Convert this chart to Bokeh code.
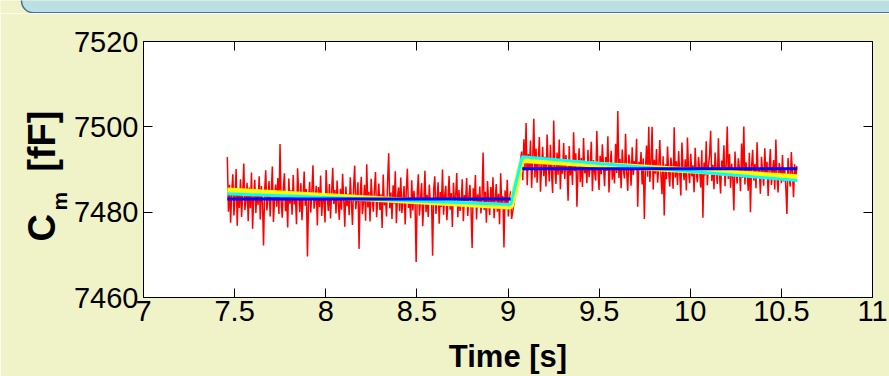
import numpy as np
from bokeh.plotting import figure
from bokeh.layouts import column
from bokeh.models import (LinearAxis, FixedTicker, Range1d, Title, Quad, Plot)
from bokeh.embed import file_html
from bokeh.resources import INLINE

# ---------------- data ----------------
seg1_t_start, seg1_t_end = 7.46, 9.02
seg1_values = [
    7492.9, 7480.1, 7486.4, 7477.5, 7484.8, 7488.9, 7479.2, 7483.6, 7490.1, 7476.8, 7485.3, 7481.0, 7487.7, 7478.9, 7484.2, 7491.4, 7480.5, 7482.7, 7486.9, 7477.9,
    7485.8, 7480.9, 7489.3, 7476.1, 7483.4, 7487.6, 7479.8, 7484.9, 7481.7, 7488.4, 7478.3, 7486.1, 7482.2, 7472.2, 7485.0, 7489.8, 7480.4, 7483.1, 7487.3, 7479.0,
    7484.6, 7490.7, 7477.7, 7482.9, 7486.5, 7481.3, 7488.0, 7479.6, 7496.0, 7482.4, 7478.7, 7485.6, 7489.1, 7480.2, 7484.0, 7476.4, 7487.9, 7482.0, 7485.1, 7479.4,
    7488.7, 7481.8, 7483.9, 7477.2, 7490.3, 7484.4, 7480.0, 7486.8, 7478.1, 7483.3, 7489.5, 7481.5, 7485.4, 7469.6, 7482.6, 7487.1, 7479.9, 7484.7, 7491.0, 7480.8,
    7483.0, 7486.2, 7476.9, 7485.9, 7481.2, 7488.6, 7479.1, 7484.1, 7482.8, 7477.6, 7489.9, 7483.7, 7480.3, 7486.6, 7478.5, 7484.5, 7490.4, 7481.9, 7485.2, 7479.7,
    7487.4, 7482.1, 7478.2, 7485.5, 7480.6, 7489.0, 7483.2, 7476.6, 7486.0, 7481.4, 7484.3, 7479.3, 7488.2, 7482.5, 7477.0, 7485.7, 7490.9, 7480.7, 7483.5, 7487.0,
    7471.4, 7484.0, 7488.3, 7479.5, 7482.3, 7486.4, 7478.0, 7491.2, 7481.1, 7484.8, 7477.8, 7487.8, 7483.0, 7480.1, 7485.3, 7489.4, 7478.8, 7482.9, 7486.7, 7480.5,
    7484.2, 7476.3, 7488.8, 7481.6, 7483.8, 7479.0, 7487.2, 7493.8, 7480.9, 7484.6, 7478.4, 7486.3, 7482.0, 7489.6, 7477.4, 7483.6, 7485.8, 7480.2, 7488.1, 7479.8,
    7482.7, 7486.1, 7477.1, 7484.9, 7490.2, 7481.0, 7483.4, 7478.6, 7487.5, 7480.4, 7485.0, 7482.2, 7468.3, 7484.4, 7488.9, 7479.2, 7483.1, 7486.8, 7476.7, 7482.4,
    7489.7, 7480.0, 7484.1, 7478.9, 7486.5, 7481.8, 7483.3, 7469.8, 7485.5, 7488.4, 7479.6, 7482.6, 7487.0, 7477.3, 7484.7, 7481.2, 7490.0, 7479.4, 7483.9, 7486.2,
    7478.1, 7482.8, 7488.5, 7480.6, 7484.5, 7476.5, 7486.9, 7481.5, 7483.7, 7489.2, 7478.8, 7485.2, 7480.3, 7482.1, 7487.7, 7477.9, 7484.0, 7481.9, 7488.0, 7479.1,
    7483.5, 7486.4, 7480.8, 7471.6, 7485.6, 7482.3, 7488.7, 7478.3, 7484.2, 7481.1, 7486.0, 7479.7, 7483.0, 7494.0, 7480.5, 7484.8, 7477.5, 7487.3, 7482.5, 7479.3,
    7485.9, 7481.4, 7488.2, 7478.6, 7483.2, 7486.6, 7480.1, 7484.3, 7477.2, 7489.1, 7481.7, 7483.8, 7471.7, 7485.1, 7480.7, 7487.6, 7479.0, 7482.6, 7484.9, 7478.4,
]
seg2_t_start, seg2_t_end = 9.075, 10.585
seg2_values = [
    7494.2, 7487.5, 7497.1, 7489.8, 7500.9, 7486.3, 7493.6, 7490.0, 7496.8, 7485.7, 7492.4, 7501.9, 7488.1, 7494.9, 7486.9, 7491.7, 7497.6, 7484.8, 7490.6, 7495.3,
    7488.4, 7493.0, 7486.0, 7498.2, 7491.1, 7487.2, 7495.8, 7489.3, 7484.5, 7501.5, 7490.4, 7486.6, 7494.0, 7488.8, 7497.0, 7485.4, 7492.1, 7489.0, 7496.2, 7487.8,
    7493.4, 7490.7, 7482.7, 7495.5, 7488.6, 7491.9, 7486.4, 7498.7, 7489.6, 7493.8, 7481.3, 7490.2, 7495.0, 7487.0, 7492.7, 7485.9, 7497.4, 7489.1, 7491.4, 7486.8,
    7494.6, 7488.2, 7490.9, 7496.5, 7484.9, 7492.2, 7489.5, 7487.4, 7499.0, 7490.3, 7485.2, 7493.2, 7488.9, 7495.9, 7491.0, 7486.1, 7492.9, 7489.7, 7497.8, 7484.6,
    7490.8, 7494.4, 7487.6, 7491.6, 7486.7, 7496.0, 7489.2, 7503.7, 7488.0, 7492.5, 7485.6, 7494.7, 7490.1, 7487.9, 7498.4, 7489.4, 7485.0, 7493.5, 7491.3, 7486.2,
    7495.2, 7488.7, 7492.0, 7490.5, 7497.2, 7481.3, 7491.8, 7489.9, 7494.1, 7486.5, 7492.6, 7478.4, 7490.0, 7495.6, 7488.3, 7500.0, 7487.1, 7491.5, 7500.0, 7485.3,
    7492.3, 7489.0, 7494.8, 7486.9, 7490.6, 7496.9, 7488.5, 7484.2, 7493.1, 7479.2, 7491.2, 7487.7, 7495.4, 7489.6, 7486.0, 7492.8, 7490.4, 7485.5, 7499.9, 7488.1,
    7491.9, 7486.4, 7494.3, 7489.3, 7483.9, 7496.3, 7490.2, 7487.5, 7492.4, 7485.1, 7497.5, 7489.8, 7486.8, 7493.7, 7488.4, 7491.0, 7484.7, 7495.1, 7489.1, 7487.0,
    7492.9, 7490.1, 7485.8, 7494.5, 7478.7, 7491.6, 7488.6, 7496.6, 7486.3, 7490.8, 7493.3, 7499.1, 7487.3, 7491.1, 7485.4, 7494.0, 7489.5, 7486.6, 7497.3, 7488.9,
    7484.4, 7492.1, 7489.7, 7495.7, 7486.1, 7490.9, 7500.1, 7487.8, 7493.6, 7485.7, 7491.4, 7488.2, 7480.4, 7494.2, 7489.0, 7486.7, 7492.6, 7490.3, 7484.9, 7496.1,
    7488.0, 7500.1, 7486.5, 7491.7, 7489.4, 7485.0, 7493.9, 7480.0, 7490.7, 7494.6, 7487.4, 7491.3, 7485.6, 7496.4, 7488.8, 7490.0, 7484.3, 7493.0, 7489.2, 7486.2,
    7495.0, 7487.9, 7491.8, 7483.8, 7490.5, 7494.8, 7486.4, 7489.6, 7492.2, 7485.3, 7497.0, 7488.5, 7484.6, 7491.5, 7489.9, 7486.8, 7493.4, 7487.2, 7490.2, 7485.9,
    7479.6, 7492.7, 7488.3, 7486.0, 7494.1, 7489.1, 7483.5, 7491.2, 7487.6, 7490.8,
]

# fit lines
yellow_t = [7.46, 9.015, 9.078, 10.587]
yellow_v = [7485.1, 7481.3, 7492.2, 7488.2]
cyan_t = [7.46, 9.015, 9.078, 10.587]
cyan_v = [7484.3, 7481.8, 7493.0, 7487.4]
blue1_t = [7.46, 9.015]
blue1_v = [7483.1, 7483.1]
blue2_t = [9.078, 10.587]
blue2_v = [7490.2, 7490.2]

x_ticks = [7, 7.5, 8, 8.5, 9, 9.5, 10, 10.5, 11]
x_tick_labels = ["7", "7.5", "8", "8.5", "9", "9.5", "10", "10.5", "11"]
y_ticks = [7460, 7480, 7500, 7520]
y_tick_labels = ["7460", "7480", "7500", "7520"]

# ---------------- styling ----------------
BG = "#F0F2C8"
FONT = "Liberation Sans"
W = 889
BANNER_H = 13
MAIN_H = 363
HAS_FRAME_ALIGN = "frame_align" in Plot.properties()

# ---------------- banner strip (decoration at top) ----------------
banner = figure(width=W, height=BANNER_H, output_backend="svg", toolbar_location=None,
                x_range=Range1d(0, W), y_range=Range1d(0, BANNER_H),
                x_axis_type=None, y_axis_type=None,
                min_border_left=0, min_border_right=0, min_border_top=0, min_border_bottom=0)
banner.background_fill_color = BG
banner.border_fill_color = BG
banner.outline_line_color = None
banner.xgrid.visible = False
banner.ygrid.visible = False
qkw = dict(fill_color="#BAE0E4", line_color="#4A6F98", line_width=1.5)
if "border_radius" in Quad.properties():
    qkw["border_radius"] = 12
banner.quad(left=[21], right=[W + 30], bottom=[0.8], top=[BANNER_H + 30], **qkw)

# ---------------- main figure ----------------
p_main = figure(width=W, height=MAIN_H, output_backend="svg", toolbar_location=None,
                x_range=Range1d(7, 11), y_range=Range1d(7460, 7520),
                min_border_left=143, min_border_right=17, min_border_top=28, min_border_bottom=79)
p_main.background_fill_color = "white"
p_main.border_fill_color = BG
p_main.outline_line_color = "black"
p_main.outline_line_width = 1
p_main.xgrid.visible = False
p_main.ygrid.visible = False
if HAS_FRAME_ALIGN:
    banner.frame_align = False
    p_main.frame_align = False

t1 = np.linspace(seg1_t_start, seg1_t_end, len(seg1_values))
t2 = np.linspace(seg2_t_start, seg2_t_end, len(seg2_values))
t_all = np.concatenate([t1, t2])
v_all = np.concatenate([seg1_values, seg2_values])

p_main.line(t_all, v_all, line_color="#FF0000", line_width=1.5)
p_main.line(yellow_t, yellow_v, line_color="#FFFF00", line_width=6)
p_main.line(cyan_t, cyan_v, line_color="#00FFFF", line_width=3)
p_main.line(blue1_t, blue1_v, line_color="#0000FF", line_width=3)
p_main.line(blue2_t, blue2_v, line_color="#0000FF", line_width=3)

def style_axis(ax, show_labels):
    ax.axis_line_color = "black"
    ax.major_tick_line_color = "black"
    ax.major_tick_in = 9
    ax.major_tick_out = 0
    ax.minor_tick_line_color = None
    ax.major_label_text_font = FONT
    ax.major_label_text_font_size = "29px"
    ax.major_label_text_color = "black" if show_labels else None

x_over = {float(t): s for t, s in zip(x_ticks, x_tick_labels)}
y_over = {float(t): s for t, s in zip(y_ticks, y_tick_labels)}

xa = p_main.xaxis[0]
ya = p_main.yaxis[0]
xa.ticker = FixedTicker(ticks=x_ticks)
ya.ticker = FixedTicker(ticks=y_ticks)
xa.major_label_overrides = x_over
ya.major_label_overrides = y_over
style_axis(xa, True)
style_axis(ya, True)
xa.major_label_standoff = 3
ya.major_label_standoff = 5

xa.axis_label = "Time [s]"
xa.axis_label_text_font = FONT
xa.axis_label_text_font_style = "bold"
xa.axis_label_text_font_size = "31px"
xa.axis_label_text_color = "black"
xa.axis_label_standoff = 15

top_ax = LinearAxis(ticker=FixedTicker(ticks=x_ticks))
right_ax = LinearAxis(ticker=FixedTicker(ticks=y_ticks))
style_axis(top_ax, False)
style_axis(right_ax, False)
top_ax.major_label_text_font_size = "0px"
right_ax.major_label_text_font_size = "0px"
top_ax.major_label_standoff = 0
right_ax.major_label_standoff = 0
p_main.add_layout(top_ax, "above")
p_main.add_layout(right_ax, "right")

# y-axis title  C_m [fF]  (subscript m set in its own, smaller text)
t_m = Title(text="m", align="left", offset=87, standoff=0,
            text_font=FONT, text_font_style="bold", text_font_size="21px", text_color="black")
t_c = Title(text="C\u00a0\u00a0\u00a0\u00a0[fF]", align="left", offset=56, standoff=0,
            text_font=FONT, text_font_style="bold", text_font_size="38px", text_color="black")
try:
    t_c.standoff = -34
except Exception:
    pass
p_main.add_layout(t_m, "left")
p_main.add_layout(t_c, "left")

p = column(banner, p_main, spacing=0)

open("out.html", "w").write(file_html(p, INLINE))
